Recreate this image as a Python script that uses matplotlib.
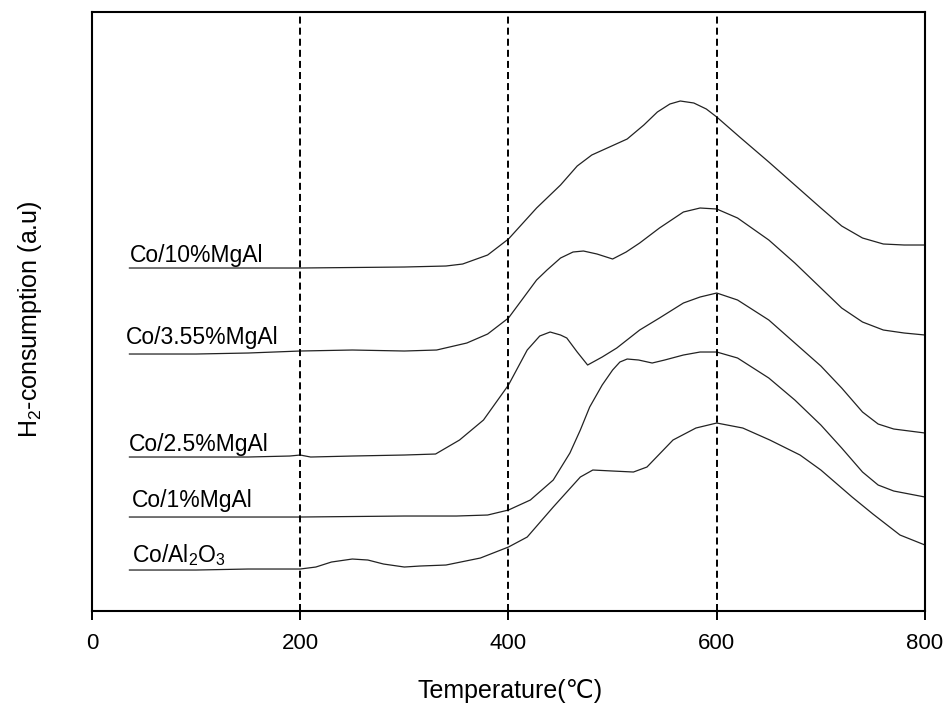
import matplotlib
matplotlib.use("Agg")
import matplotlib.pyplot as plt

plt.rcParams['font.family'] = ['Liberation Sans', 'DejaVu Sans']
plt.rcParams['mathtext.fontset'] = 'custom'
plt.rcParams['mathtext.rm'] = 'Liberation Sans'
plt.rcParams['mathtext.default'] = 'regular'

# TPR profiles, temperature (C) vs H2 consumption (a.u., stacked offsets included)
t_10 = [36, 100, 200, 300, 340, 356, 380, 400, 427, 450, 466, 480, 497, 514, 530,
        543, 555, 565, 578, 590, 600, 622, 650, 675, 700, 720, 740, 760, 780, 800]
h_10 = [343, 343, 343, 344, 345, 347, 356, 372, 403, 426, 445, 456, 464, 472, 486,
        499, 507, 510, 508, 502, 494, 474, 449, 426, 403, 385, 373, 367, 366, 366]

t_355 = [36, 100, 150, 200, 250, 300, 331, 360, 380, 400, 427, 437, 450, 462, 472, 485,
         500, 513, 526, 545, 568, 584, 600, 620, 650, 675, 700, 720, 740, 760, 780, 800]
h_355 = [257, 257, 258, 260, 261, 260, 261, 268, 277, 293, 331, 341, 353, 359, 360, 357,
         352, 359, 368, 383, 399, 403, 402, 393, 371, 348, 323, 303, 289, 281, 278, 276]

t_25 = [36, 100, 150, 190, 200, 210, 250, 300, 330, 353, 376, 400, 418, 430, 440, 450,
        456, 466, 476, 490, 504, 526, 545, 568, 584, 600, 620, 650, 675, 700, 720, 740,
        755, 770, 800]
h_25 = [154, 154, 154, 155, 156, 154, 155, 156, 157, 171, 191, 226, 261, 275, 279, 276,
        273, 259, 246, 254, 263, 281, 293, 308, 314, 318, 311, 291, 268, 245, 223, 199,
        187, 182, 178]

t_1 = [36, 100, 200, 300, 350, 380, 400, 421, 443, 459, 469, 478, 490, 500, 507, 514,
       525, 538, 550, 568, 584, 600, 620, 650, 675, 700, 720, 740, 755, 770, 800]
h_1 = [94, 94, 94, 95, 95, 96, 101, 111, 131, 158, 181, 204, 226, 241, 249, 252,
       251, 248, 251, 256, 259, 259, 253, 233, 211, 186, 163, 139, 126, 120, 114]

t_al = [36, 100, 150, 200, 215, 230, 250, 265, 280, 300, 315, 340, 373, 400, 418, 443,
        469, 481, 500, 520, 533, 558, 580, 600, 625, 651, 680, 700, 730, 750, 776, 800]
h_al = [41, 41, 42, 42, 44, 49, 52, 51, 47, 44, 45, 46, 53, 64, 74, 104,
        134, 141, 140, 139, 144, 171, 183, 188, 183, 171, 156, 141, 114, 97, 76, 66]

labels = ['Co/10%MgAl', 'Co/3.55%MgAl', 'Co/2.5%MgAl', 'Co/1%MgAl', 'Co/Al$_2$O$_3$']
label_x = [36, 33, 35, 38, 38]
label_y = [356, 274, 167, 111, 56]
ref_lines = [200, 400, 600]

fig = plt.figure(figsize=(9.49, 7.10), dpi=100)
ax = fig.add_axes([0.0969, 0.1394, 0.8778, 0.8437])

for t, h in [(t_10, h_10), (t_355, h_355), (t_25, h_25), (t_1, h_1), (t_al, h_al)]:
    ax.plot(t, h, color='#222222', lw=0.9)

for x in ref_lines:
    ax.axvline(x, color='black', lw=1.4, dashes=(3.6, 2.1))

for lab, lx, ly in zip(labels, label_x, label_y):
    ax.text(lx, ly, lab, fontsize=16.5, va='center', ha='left')

ax.set_xlim(0, 800)
ax.set_ylim(0, 599)
ax.set_xticks([0, 200, 400, 600, 800])
ax.set_yticks([])
ax.tick_params(axis='x', direction='out', length=6.5, width=1.4, labelsize=16, pad=9)
for s in ax.spines.values():
    s.set_linewidth(1.5)

fig.text(0.537, 0.027, 'Temperature(\u2103)', fontsize=18, ha='center', va='center')
fig.text(0.032, 0.55, 'H$_2$-consumption (a.u)', fontsize=18, ha='center',
         va='center', rotation=90)

fig.savefig('out.png', dpi=100)
